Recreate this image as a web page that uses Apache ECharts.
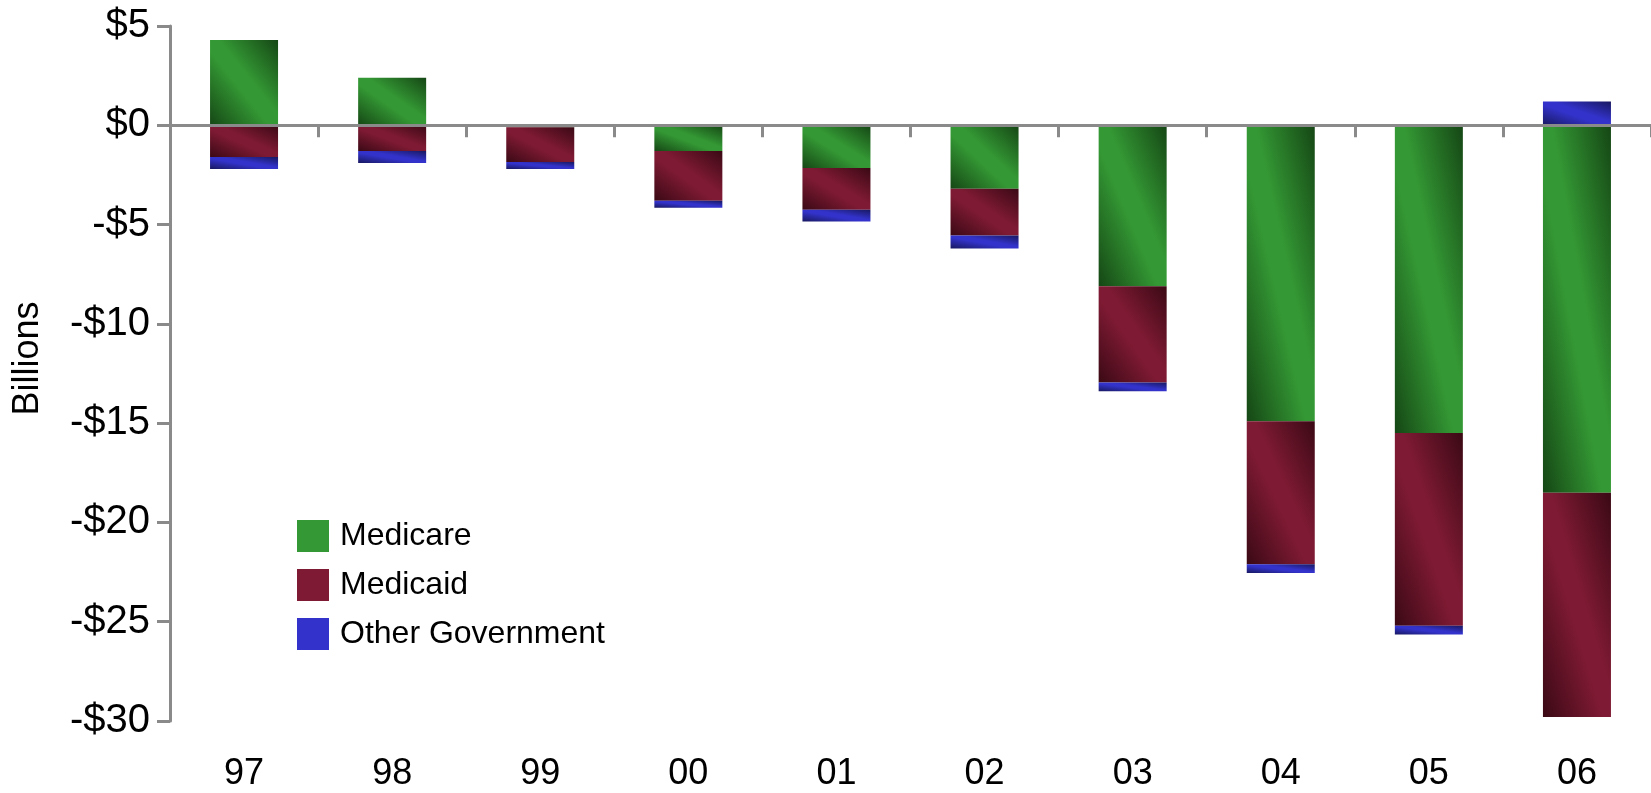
<!DOCTYPE html>
<html>
<head>
<meta charset="utf-8">
<script src="https://cdn.jsdelivr.net/npm/echarts@6/dist/echarts.min.js"></script>
<style>
  html, body { margin: 0; padding: 0; background: #ffffff; }
  #chart { width: 1651px; height: 793px; }
</style>
</head>
<body>
<div id="chart"></div>
<script>
// Year-by-year payment differences, billions of dollars
const categories = ['97', '98', '99', '00', '01', '02', '03', '04', '05', '06'];
const medicare   = [4.3, 2.4, -0.1, -1.3, -2.15, -3.2, -8.1, -14.9, -15.5, -18.5];
const medicaid   = [-1.6, -1.3, -1.75, -2.5, -2.1, -2.35, -4.85, -7.2, -9.7, -11.3];
const otherGov   = [-0.6, -0.6, -0.35, -0.35, -0.6, -0.65, -0.45, -0.45, -0.45, 1.2];
const seriesNames = ['Medicare', 'Medicaid', 'Other Government'];

// Value axis range and step
const yMin = -30;
const yMax = 5;
const yStep = 5;

const FONT = '"Liberation Sans", Arial, Helvetica, sans-serif';
const AXIS_GREY = '#8a8a8a';
const BAR_W = 68;

// base (flat) colour and the darker corner tone for each series
const palette = [
  { base: '#349934', dark: '#154615' },
  { base: '#7e1a33', dark: '#3a0914' },
  { base: '#3333cc', dark: '#181860' }
];

function moneyLabel(v) {
  return v < 0 ? '-$' + Math.abs(v) : '$' + v;
}

const chart = echarts.init(document.getElementById('chart'), null, { renderer: 'canvas' });

const option = {
  animation: false,
  backgroundColor: '#ffffff',
  textStyle: { fontFamily: FONT, color: '#000' },
  grid: { left: 170, right: 0, top: 26, bottom: 72, containLabel: false },
  legend: {
    orient: 'vertical',
    left: 292,
    top: 515,
    itemWidth: 32,
    itemHeight: 32,
    itemGap: 17,
    icon: 'rect',
    data: seriesNames,
    textStyle: { fontFamily: FONT, fontSize: 32, color: '#000', padding: [0, 0, 0, 6] }
  },
  xAxis: [
    {
      // category labels along the bottom edge
      type: 'category',
      data: categories,
      position: 'bottom',
      axisLine: { show: false, onZero: false },
      axisTick: { show: false },
      axisLabel: { fontFamily: FONT, fontSize: 36, color: '#000', margin: 35 }
    },
    {
      // the baseline at zero with its tick marks
      type: 'category',
      data: categories,
      position: 'bottom',
      z: 5,
      axisLine: { show: true, onZero: true, lineStyle: { color: AXIS_GREY, width: 3 } },
      axisTick: { show: true, length: 12, lineStyle: { color: AXIS_GREY, width: 3 } },
      axisLabel: { show: false }
    }
  ],
  yAxis: {
    type: 'value',
    min: yMin,
    max: yMax,
    interval: yStep,
    name: 'Billions',
    nameLocation: 'middle',
    nameRotate: 90,
    nameGap: 124,
    nameTextStyle: { fontFamily: FONT, fontSize: 36, color: '#000', padding: [0, 0, 0, 30] },
    axisLine: { show: true, lineStyle: { color: AXIS_GREY, width: 3 } },
    axisTick: { show: true, length: 13, lineStyle: { color: AXIS_GREY, width: 3 } },
    splitLine: { show: false },
    axisLabel: { fontFamily: FONT, fontSize: 40, color: '#000', margin: 20, formatter: moneyLabel }
  },
  series: [medicare, medicaid, otherGov].map((vals, i) => ({
    name: seriesNames[i],
    type: 'bar',
    stack: 'total',
    xAxisIndex: 0,
    barWidth: BAR_W,
    itemStyle: { color: palette[i].base },
    emphasis: { disabled: true },
    data: vals
  }))
};

chart.setOption(option);

// Diagonal shading stretched over each bar: dark at the lower-left and
// upper-right corners, the base colour along the other diagonal.
const ppu = Math.abs(chart.convertToPixel({ yAxisIndex: 0 }, 0) -
                     chart.convertToPixel({ yAxisIndex: 0 }, yStep)) / yStep;

function shadedData(values, pal) {
  return values.map(v => {
    const w = BAR_W;
    const h = Math.max(Math.abs(v) * ppu, 1);
    const L2 = w * w + h * h;
    const x2 = 2 * h * h / L2;
    const y2 = 1 - 2 * w * w / L2;
    return {
      value: v,
      itemStyle: {
        color: new echarts.graphic.LinearGradient(0, 1, x2, y2, [
          { offset: 0, color: pal.dark },
          { offset: 0.44, color: pal.base },
          { offset: 0.56, color: pal.base },
          { offset: 1, color: pal.dark }
        ])
      }
    };
  });
}

chart.setOption({
  series: [
    { data: shadedData(medicare, palette[0]) },
    { data: shadedData(medicaid, palette[1]) },
    { data: shadedData(otherGov, palette[2]) }
  ]
});
</script>
</body>
</html>
